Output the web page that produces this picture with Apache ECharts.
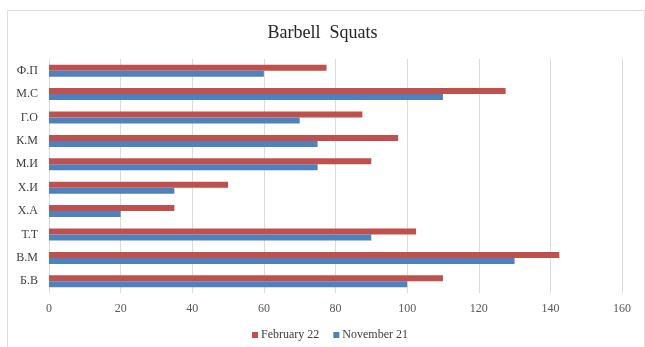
<!DOCTYPE html>
<html>
<head>
<meta charset="utf-8">
<script src="https://cdn.jsdelivr.net/npm/echarts@6/dist/echarts.min.js"></script>
<style>
  html, body { margin: 0; padding: 0; background: #ffffff; }
  #chart { width: 645px; height: 347px; }
</style>
</head>
<body>
<div id="chart"></div>
<script>
// Athletes, listed bottom to top as the category axis draws them
const athletes = ['Б.В', 'В.М', 'Т.Т', 'Х.А', 'Х.И', 'М.И', 'К.М', 'Г.О', 'М.С', 'Ф.П'];
// Squat results (kg)
const february22 = [110, 142.5, 102.5, 35, 50, 90, 97.5, 87.5, 127.5, 77.5];
const november21 = [100, 130, 90, 20, 35, 75, 75, 70, 110, 60];
const xTicks = [0, 20, 40, 60, 80, 100, 120, 140, 160];

const serif = '"Liberation Serif", "Times New Roman", serif';

const chart = echarts.init(document.getElementById('chart'), null, { renderer: 'canvas' });
chart.setOption({
  backgroundColor: '#ffffff',
  animation: false,
  title: {
    text: 'Barbell  Squats',
    left: 'center',
    top: 19,
    textStyle: { fontFamily: serif, fontSize: 18, fontWeight: 'normal', color: '#262626' }
  },
  graphic: [{
    type: 'rect',
    shape: { x: 7.5, y: 10.5, width: 637, height: 340 },
    style: { fill: 'none', stroke: '#e3dcdd', lineWidth: 1 },
    silent: true
  }],
  legend: {
    bottom: 1,
    left: 247,
    itemWidth: 6,
    itemHeight: 6,
    itemGap: 14,
    icon: 'rect',
    textStyle: { fontFamily: serif, fontSize: 12, color: '#404040', padding: [0, 0, 0, -2] },
    data: ['February 22', 'November 21']
  },
  grid: { left: 49, right: 23, top: 59, bottom: 54, containLabel: false },
  xAxis: {
    type: 'value',
    min: xTicks[0],
    max: xTicks[xTicks.length - 1],
    interval: xTicks[1] - xTicks[0],
    axisLine: { show: false },
    axisTick: { show: false },
    splitLine: { show: true, lineStyle: { color: '#dcdcdc', width: 1 } },
    axisLabel: { fontFamily: serif, fontSize: 12, color: '#595959', margin: 10 }
  },
  yAxis: {
    type: 'category',
    data: athletes,
    axisLine: { show: false },
    axisTick: { show: false },
    axisLabel: { fontFamily: serif, fontSize: 12, color: '#404040', margin: 11 }
  },
  series: [
    {
      name: 'February 22',
      type: 'bar',
      data: february22,
      barWidth: 6,
      barGap: '0%',
      itemStyle: { color: '#c0504d' }
    },
    {
      name: 'November 21',
      type: 'bar',
      data: november21,
      barWidth: 6,
      barGap: '0%',
      itemStyle: { color: '#4f81bd' }
    }
  ]
});
</script>
</body>
</html>
